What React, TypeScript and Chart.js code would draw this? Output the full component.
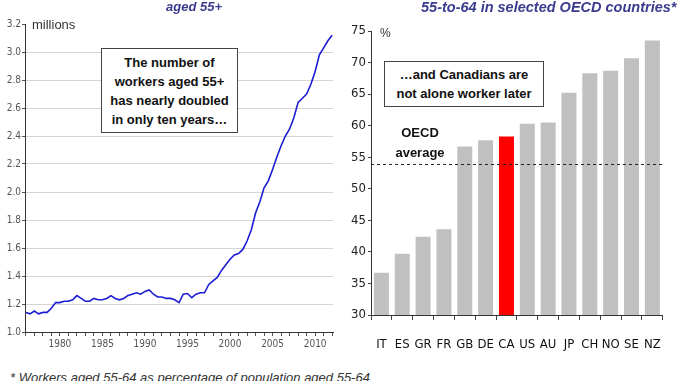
import React, { useEffect, useRef } from 'react';
import { Chart, registerables } from 'chart.js';

Chart.register(...registerables);

// ---- Left panel: workers aged 55+ (millions) ----
const years = [
  1976, 1976.5, 1977, 1977.5, 1978, 1978.5, 1979, 1979.5, 1980, 1980.5,
  1981, 1981.5, 1982, 1982.5, 1983, 1983.5, 1984, 1984.5, 1985, 1985.5,
  1986, 1986.5, 1987, 1987.5, 1988, 1988.5, 1989, 1989.5, 1990, 1990.5,
  1991, 1991.5, 1992, 1992.5, 1993, 1993.5, 1994, 1994.5, 1995, 1995.5,
  1996, 1996.5, 1997, 1997.5, 1998, 1998.5, 1999, 1999.5, 2000, 2000.5,
  2001, 2001.5, 2002, 2002.5, 2003, 2003.5, 2004, 2004.5, 2005, 2005.5,
  2006, 2006.5, 2007, 2007.5, 2008, 2008.5, 2009, 2009.5, 2010, 2010.5,
  2011, 2011.5, 2012,
];
const workers = [
  1.14, 1.13, 1.15, 1.13, 1.14, 1.14, 1.17, 1.21, 1.21, 1.22,
  1.22, 1.23, 1.26, 1.24, 1.22, 1.22, 1.24, 1.23, 1.23, 1.24,
  1.26, 1.24, 1.23, 1.24, 1.26, 1.27, 1.28, 1.27, 1.29, 1.3,
  1.27, 1.25, 1.25, 1.24, 1.24, 1.23, 1.21, 1.27, 1.275, 1.245,
  1.27, 1.28, 1.28, 1.34, 1.365, 1.39, 1.44, 1.48, 1.52, 1.55,
  1.56, 1.59, 1.65, 1.73, 1.85, 1.93, 2.03, 2.08, 2.16, 2.25,
  2.33, 2.4, 2.45, 2.53, 2.64, 2.67, 2.7, 2.77, 2.86, 2.98,
  3.03, 3.08, 3.12,
];
const leftYTicks = [1.0, 1.2, 1.4, 1.6, 1.8, 2.0, 2.2, 2.4, 2.6, 2.8, 3.0, 3.2];
const leftXTicks = [
  1976, 1977, 1978, 1979, 1980, 1981, 1982, 1983, 1984, 1985, 1986, 1987,
  1988, 1989, 1990, 1991, 1992, 1993, 1994, 1995, 1996, 1997, 1998, 1999,
  2000, 2001, 2002, 2003, 2004, 2005, 2006, 2007, 2008, 2009, 2010, 2011, 2012,
];
const leftXLabelYears = [1980, 1985, 1990, 1995, 2000, 2005, 2010];

// ---- Right panel: employment rate 55-64 (%) ----
const countries = ['IT', 'ES', 'GR', 'FR', 'GB', 'DE', 'CA', 'US', 'AU', 'JP', 'CH', 'NO', 'SE', 'NZ'];
const rates = [36.7, 39.7, 42.4, 43.6, 56.7, 57.7, 58.3, 60.3, 60.5, 65.2, 68.3, 68.7, 70.7, 73.5];
const highlightCountry = 'CA';
const oecdAverage = 54;
const rightYTicks = [30, 35, 40, 45, 50, 55, 60, 65, 70, 75];

const NARROW = "'Liberation Sans Narrow', 'Arial Narrow', 'DejaVu Sans Condensed', sans-serif";
const SANS = "'Liberation Sans', Arial, sans-serif";

const dashedLinePlugin = {
  id: 'oecdLine',
  afterDatasetsDraw(chart: any) {
    const { ctx, chartArea } = chart;
    const y = chart.scales.y.getPixelForValue(oecdAverage);
    ctx.save();
    ctx.strokeStyle = '#222';
    ctx.lineWidth = 1;
    ctx.setLineDash([3, 3]);
    ctx.beginPath();
    ctx.moveTo(chartArea.left, Math.round(y) + 0.5);
    ctx.lineTo(chartArea.right, Math.round(y) + 0.5);
    ctx.stroke();
    ctx.restore();
  },
};

export default function App() {
  const leftRef = useRef<HTMLCanvasElement>(null);
  const rightRef = useRef<HTMLCanvasElement>(null);

  useEffect(() => {
    const left = new Chart(leftRef.current as HTMLCanvasElement, {
      type: 'line',
      data: {
        datasets: [
          {
            data: years.map((x, i) => ({ x, y: workers[i] })),
            borderColor: '#1c1cd4',
            borderWidth: 1.6,
            pointRadius: 0,
            tension: 0,
            fill: false,
          },
        ],
      },
      options: {
        animation: false,
        responsive: false,
        maintainAspectRatio: false,
        layout: { padding: { top: 24, right: 7, left: 0, bottom: 0 } },
        plugins: { legend: { display: false }, tooltip: { enabled: false } },
        scales: {
          x: {
            type: 'linear',
            min: 1975.9,
            max: 2012.1,
            afterBuildTicks: (s: any) => {
              s.ticks = leftXTicks.map((v) => ({ value: v }));
            },
            afterFit: (s: any) => {
              s.height = 28;
            },
            ticks: {
              autoSkip: false,
              maxRotation: 0,
              minRotation: 0,
              padding: 2,
              color: '#555',
              font: { family: NARROW, size: 10 },
              callback: (v: any) => (leftXLabelYears.includes(v) ? String(v) : ''),
            },
            grid: { drawOnChartArea: false, tickLength: 4, tickColor: '#555' },
            border: { color: '#333', width: 1 },
          },
          y: {
            min: 1.0,
            max: 3.2,
            afterBuildTicks: (s: any) => {
              s.ticks = leftYTicks.map((v) => ({ value: v }));
            },
            afterFit: (s: any) => {
              s.width = 25;
            },
            ticks: {
              padding: 1,
              color: '#555',
              font: { family: NARROW, size: 10 },
              callback: (v: any) => Number(v).toFixed(1),
            },
            grid: {
              color: (c: any) => (c.tick && c.tick.value > 3.1 ? 'rgba(0,0,0,0)' : '#d4d4d4'),
              tickColor: '#555',
              tickLength: 3,
            },
            border: { color: '#333', width: 1 },
          },
        },
      },
    } as any);

    const right = new Chart(rightRef.current as HTMLCanvasElement, {
      type: 'bar',
      data: {
        labels: countries,
        datasets: [
          {
            data: rates,
            backgroundColor: countries.map((c) => (c === highlightCountry ? '#ff0000' : '#c0c0c0')),
            barPercentage: 0.72,
            categoryPercentage: 1,
          },
        ],
      },
      options: {
        animation: false,
        responsive: false,
        maintainAspectRatio: false,
        layout: { padding: { top: 31, right: 8, left: 0, bottom: 0 } },
        plugins: { legend: { display: false }, tooltip: { enabled: false } },
        scales: {
          x: {
            afterFit: (s: any) => {
              s.height = 45;
            },
            ticks: {
              autoSkip: false,
              maxRotation: 0,
              minRotation: 0,
              padding: 17,
              color: '#111',
              font: { family: NARROW, size: 13 },
            },
            grid: { offset: true, drawOnChartArea: false, tickLength: 5, tickColor: '#444' },
            border: { color: '#333', width: 1 },
          },
          y: {
            min: 30,
            max: 75,
            afterBuildTicks: (s: any) => {
              s.ticks = rightYTicks.map((v) => ({ value: v }));
            },
            afterFit: (s: any) => {
              s.width = 31;
            },
            ticks: {
              padding: 2,
              color: '#222',
              font: { family: NARROW, size: 13 },
            },
            grid: { drawOnChartArea: false, tickLength: 3, tickColor: '#444' },
            border: { color: '#333', width: 1 },
          },
        },
      },
      plugins: [dashedLinePlugin],
    } as any);

    return () => {
      left.destroy();
      right.destroy();
    };
  }, []);

  const titleStyle: React.CSSProperties = {
    position: 'absolute',
    fontFamily: SANS,
    fontWeight: 'bold',
    fontStyle: 'italic',
    color: '#3b3b8f',
    whiteSpace: 'nowrap',
    lineHeight: '14px',
  };
  const boxStyle: React.CSSProperties = {
    position: 'absolute',
    boxSizing: 'border-box',
    border: '1px solid #444',
    background: '#fff',
    fontFamily: SANS,
    fontWeight: 'bold',
    fontSize: 13,
    color: '#111',
    textAlign: 'center',
    whiteSpace: 'nowrap',
  };

  return (
    <div
      style={{
        position: 'fixed',
        left: 0,
        top: 0,
        width: 678,
        height: 381,
        background: '#fff',
        overflow: 'hidden',
      }}
    >
      <canvas
        ref={leftRef}
        width={340}
        height={360}
        style={{ position: 'absolute', left: 0, top: 0, width: 340, height: 360 }}
      />
      <canvas
        ref={rightRef}
        width={338}
        height={360}
        style={{ position: 'absolute', left: 340, top: 0, width: 338, height: 360 }}
      />

      <div style={{ ...titleStyle, left: 166, top: 0, fontSize: 13 }}>aged 55+</div>
      <div style={{ ...titleStyle, left: 421, top: 0, fontSize: 14.5 }}>
        55-to-64 in selected OECD countries*
      </div>

      <div
        style={{
          position: 'absolute',
          left: 32,
          top: 17,
          fontFamily: SANS,
          fontSize: 13,
          lineHeight: '16px',
          color: '#333',
        }}
      >
        millions
      </div>
      <div
        style={{
          position: 'absolute',
          left: 380,
          top: 26,
          fontFamily: SANS,
          fontSize: 12,
          lineHeight: '14px',
          color: '#333',
        }}
      >
        %
      </div>

      <div style={{ ...boxStyle, left: 101, top: 48, width: 137, height: 85, paddingTop: 4, lineHeight: '19px' }}>
        The number of
        <br />
        workers aged 55+
        <br />
        has nearly doubled
        <br />
        in only ten years…
      </div>

      <div style={{ ...boxStyle, left: 384, top: 61, width: 160, height: 46, paddingTop: 4, lineHeight: '18.5px' }}>
        …and Canadians are
        <br />
        not alone worker later
      </div>

      <div
        style={{
          position: 'absolute',
          left: 380,
          top: 123,
          width: 80,
          textAlign: 'center',
          fontFamily: SANS,
          fontWeight: 'bold',
          fontSize: 13,
          lineHeight: '19.5px',
          color: '#111',
        }}
      >
        OECD
        <br />
        average
      </div>

      <div
        style={{
          position: 'absolute',
          left: 10,
          top: 371,
          fontFamily: SANS,
          fontStyle: 'italic',
          fontSize: 13,
          lineHeight: '13px',
          color: '#333',
          whiteSpace: 'nowrap',
        }}
      >
        * Workers aged 55-64 as percentage of population aged 55-64
      </div>
    </div>
  );
}
